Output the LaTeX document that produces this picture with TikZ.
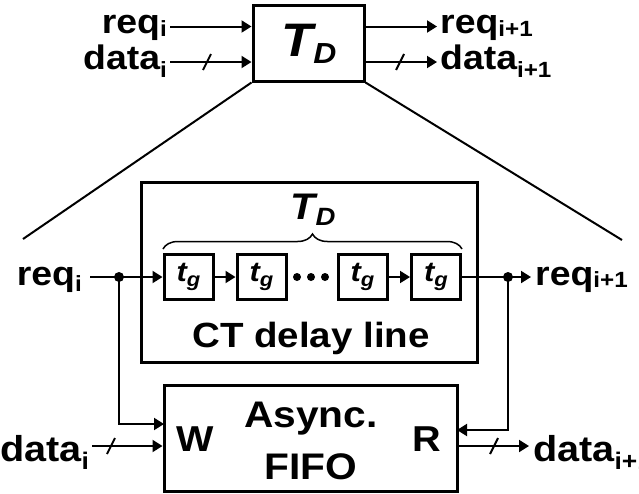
\documentclass[tikz,border=0pt]{standalone}
\usepackage{fontspec}
\setmainfont[FakeStretch=1.1]{Liberation Sans}
\usetikzlibrary{arrows.meta,decorations.pathreplacing}
\newcommand{\fs}[1]{\fontsize{#1}{#1}\selectfont}
\newcommand{\lbl}[3]{\fs{34}#1\raisebox{-#3pt}{\fs{22}#2}}
\newcommand{\lblb}[3]{\fs{36}#1\raisebox{-#3pt}{\fs{24}#2}}
\newcommand{\tgtxt}{\fs{28}\itshape t\raisebox{-5pt}{\fs{20}g}}
\begin{document}
\begin{tikzpicture}[x=1pt,y=-1pt,font=\bfseries,
  box/.style={draw,line width=3pt,inner sep=0pt},
  wire/.style={line width=2pt},
  arr/.style={wire,-{Triangle[length=10pt,width=12pt]}},
  jdot/.style={circle,fill,inner sep=0pt,minimum size=10pt},
  sdot/.style={circle,fill,inner sep=0pt,minimum size=8pt},
  gbox/.style={box,minimum width=49pt,minimum height=45pt},
  lab/.style={inner sep=0pt}]
\useasboundingbox (0,0) rectangle (639,493);

% ---- top block
\node[box,minimum width=111pt,minimum height=76pt] (top) at (308.5,43) {};
\node (toptd) at (309,44) {\fs{47}\itshape T\raisebox{-7pt}{\fs{29}D}};
\coordinate (rqin) at (170,26.5);
\coordinate (dtin) at (170,62);
\coordinate (rqout) at (437,26.5);
\coordinate (dtout) at (437,62);
\node[lab,anchor=base east] (lrqi) at (167,33) {\lbl{req}{i}{3}};
\node[lab,anchor=base east] (ldti) at (167,69) {\lbl{data}{i}{8}};
\node[lab,anchor=base west] (lrqo) at (440,33) {\lbl{req}{i+1}{3}};
\node[lab,anchor=base west] (ldto) at (440,69) {\lbl{data}{i+1}{8}};
\draw[arr] (rqin) -- (rqin -| top.west);
\draw[arr] (dtin) -- (dtin -| top.west);
\draw[arr] (rqin -| top.east) -- (rqout);
\draw[arr] (dtin -| top.east) -- (dtout);
\coordinate (s1) at (207,62);
\coordinate (s2) at (400,62);
\draw[wire] ([shift={(-4,8)}]s1) -- ([shift={(4,-8)}]s1);
\draw[wire] ([shift={(-4,8)}]s2) -- ([shift={(4,-8)}]s2);

% ---- zoom lines
\coordinate (zl) at (23,239);
\coordinate (zr) at (622,240);
\draw[wire] (top.south west) -- (zl);
\draw[wire] (top.south east) -- (zr);

% ---- CT delay line
\node[box,minimum width=336pt,minimum height=180pt] (ct) at (309,272) {};
\node (cttd) at (313,210) {\fs{37}\itshape T\raisebox{-6pt}{\fs{25}D}};
\coordinate (bl) at (163,249);
\coordinate (br) at (462,249);
\draw[line width=1.5pt,decorate,decoration={brace,amplitude=15pt}] (bl) -- (br);
\node[gbox] (g1) at (188.5,277) {\tgtxt};
\node[gbox] (g2) at (261.5,277) {\tgtxt};
\node[gbox] (g3) at (362.5,277) {\tgtxt};
\node[gbox] (g4) at (436,277) {\tgtxt};
\node[sdot] (d1) at (297,277) {};
\node[sdot] (d2) at (311,277) {};
\node[sdot] (d3) at (325,277) {};
\draw[arr] (g1) -- (g2);
\draw[arr] (g3) -- (g4);
\node[lab,anchor=base] (ctl) at (311,347) {\fs{35}CT delay line};

% ---- req wires
\node[lab,anchor=base east] (lreq) at (82,285) {\lbl{req}{i}{6}};
\node[lab,anchor=base west] (lreqo) at (535,285) {\lbl{req}{i+1}{2}};
\coordinate (rin) at (90,277);
\coordinate (rout) at (531,277);
\coordinate (jlp) at (119,277);
\coordinate (jrp) at (508,277);
\draw[arr] (rin) -- (g1.west);
\draw[arr] (g4.east) -- (rout);

% ---- FIFO
\node[box,minimum width=293pt,minimum height=106pt] (fifo) at (310.5,438) {};
\node[lab,anchor=base] (async) at (311,427) {\fs{37}Async.};
\node[lab,anchor=base] (fifot) at (311,479) {\fs{37}FIFO};
\node[lab,anchor=base west] (wl) at (176,451) {\fs{36}W};
\node[lab,anchor=base east] (rl) at (441,451) {\fs{36}R};
\coordinate (fw) at (164,424);
\coordinate (fr) at (457,430);
\draw[arr] (jlp) |- (fw);
\draw[arr] (jrp) |- (fr);
\node[jdot] (jl) at (jlp) {};
\node[jdot] (jr) at (jrp) {};

\node[lab,anchor=base west] (ldin) at (0,461) {\lblb{data}{i}{8}};
\node[lab,anchor=base west] (ldout) at (533,461) {\lblb{data}{i+1}{8}};
\coordinate (din) at (92,446);
\coordinate (dout) at (529,446);
\draw[arr] (din) -- (din -| fifo.west);
\draw[arr] (din -| fifo.east) -- (dout);
\coordinate (s3) at (111,446);
\coordinate (s4) at (494,446);
\draw[wire] ([shift={(-4,8)}]s3) -- ([shift={(4,-8)}]s3);
\draw[wire] ([shift={(-4,8)}]s4) -- ([shift={(4,-8)}]s4);
\end{tikzpicture}
\end{document}
